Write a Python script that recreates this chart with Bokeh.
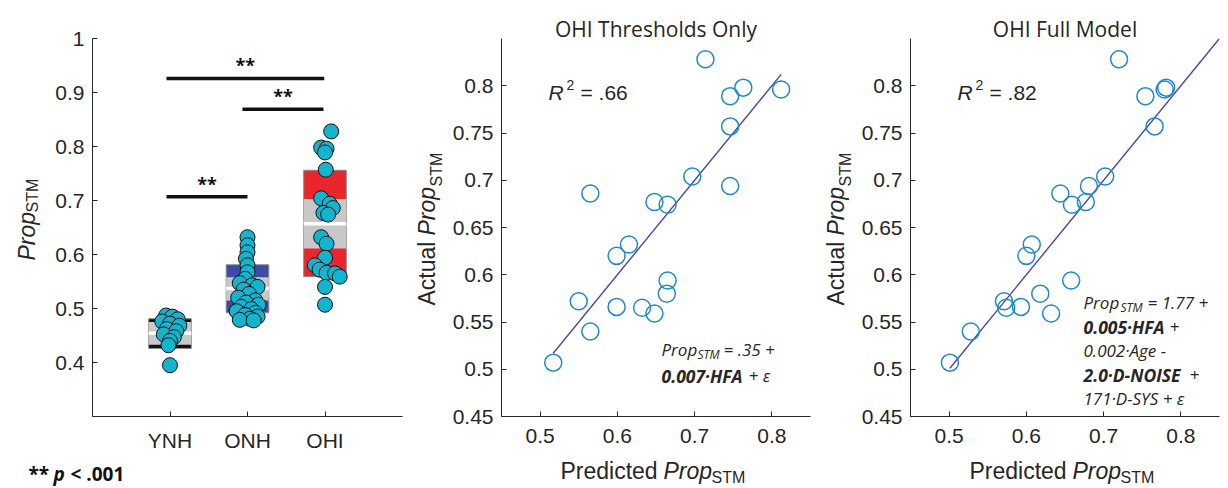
import math
from bokeh.plotting import figure
from bokeh.models import FixedTicker
from bokeh.core.properties import value
from bokeh.layouts import row
from bokeh.embed import file_html
from bokeh.resources import INLINE

# ---------------- data ----------------
groups = ["YNH", "ONH", "OHI"]

ynh_vals = [0.487, 0.485, 0.480, 0.476, 0.472, 0.468, 0.462, 0.458, 0.452, 0.447, 0.440, 0.432, 0.395]
ynh_jit = [-0.05, 0.03, 0.10, -0.10, 0.00, 0.12, -0.04, 0.08, -0.08, 0.05, 0.00, -0.02, 0.00]

onh_vals = [0.632, 0.617, 0.604, 0.592, 0.580, 0.567, 0.555, 0.547, 0.543, 0.540, 0.535, 0.527, 0.520,
            0.515, 0.511, 0.507, 0.503, 0.499, 0.495, 0.492, 0.488, 0.485, 0.481, 0.479, 0.478]
onh_jit = [0.00, 0.00, 0.00, -0.02, 0.00, 0.00, -0.03, -0.10, 0.06, 0.13, -0.05, 0.02, -0.12,
           0.10, -0.02, 0.14, -0.08, 0.05, -0.14, 0.10, -0.03, 0.13, 0.03, -0.10, 0.08]

# OHI actual PropSTM (shared by all three panels)
ohi_vals = [0.828, 0.798, 0.796, 0.789, 0.757, 0.704, 0.694, 0.686, 0.677, 0.674,
            0.632, 0.620, 0.594, 0.580, 0.572, 0.566, 0.565, 0.559, 0.540, 0.507]
ohi_jit = [0.08, -0.05, 0.02, 0.00, 0.01, -0.05, 0.06, 0.10, -0.02, 0.04,
           -0.05, 0.02, 0.00, -0.13, -0.07, 0.02, 0.13, 0.19, 0.00, 0.00]

pred_thresh = [0.714, 0.763, 0.812, 0.746, 0.746, 0.697, 0.746, 0.565, 0.648, 0.665,
               0.615, 0.599, 0.665, 0.664, 0.550, 0.599, 0.632, 0.648, 0.565, 0.517]
pred_full = [0.720, 0.781, 0.779, 0.754, 0.766, 0.702, 0.681, 0.644, 0.677, 0.659,
             0.607, 0.600, 0.658, 0.618, 0.571, 0.593, 0.574, 0.632, 0.528, 0.501]

box_mean = [0.454, 0.537, 0.657]
box_ci_lo = [0.433, 0.515, 0.611]
box_ci_hi = [0.475, 0.558, 0.703]
box_sd_lo = [0.426, 0.492, 0.559]
box_sd_hi = [0.481, 0.581, 0.756]
box_colors = ["#111111", "#3B4CA8", "#E8262B"]

sig_x0 = [0.955, 1.935, 0.955]
sig_x1 = [2.99, 2.98, 2.00]
sig_y = [0.926, 0.869, 0.707]

fit_slope = 1.0
fit_intercept = 0.0
fit_thresh_x = [min(pred_thresh), max(pred_thresh)]
fit_full_x = [min(pred_full), 0.85]

r2_labels = [".66", ".82"]
titles = ["OHI Thresholds Only", "OHI Full Model"]

# ---------------- helpers ----------------
AX = "#262626"
ARIAL = "Liberation Sans"
CAL = "Open Sans"
FY_TOP, FY_BOT = 38, 416
H = 488


def conv(fx, fw, xr, yr):
    def cx(px):
        return xr[0] + (px - fx) / fw * (xr[1] - xr[0])

    def cy(py):
        return yr[0] + (FY_BOT - py) / (FY_BOT - FY_TOP) * (yr[1] - yr[0])
    return cx, cy


def txt(p, cv, px, py, text, size, font=ARIAL, style="normal", color=AX,
        angle=0.0, align="left"):
    cx, cy = cv
    p.text(x=[cx(px)], y=[cy(py)], text=[text], text_font=value(font),
           text_font_size=value(f"{size}px"), text_font_style=value(style),
           text_color=color, angle=angle, text_align=value(align),
           text_baseline=value("alphabetic"), level="overlay")


def make_fig(width, left, right, xr, yr):
    p = figure(width=width, height=H, x_range=xr, y_range=yr,
               output_backend="svg", toolbar_location=None,
               min_border_left=left, min_border_right=right,
               min_border_top=FY_TOP, min_border_bottom=H - FY_BOT)
    p.outline_line_color = None
    p.xgrid.visible = False
    p.ygrid.visible = False
    return p


def style_axes(p, xticks, xlabels, yticks, ylabels):
    p.xaxis.ticker = FixedTicker(ticks=xticks)
    p.xaxis.major_label_overrides = dict(zip(xticks, xlabels))
    p.yaxis.ticker = FixedTicker(ticks=yticks)
    p.yaxis.major_label_overrides = dict(zip(yticks, ylabels))
    for ax in (p.xaxis[0], p.yaxis[0]):
        ax.major_tick_in = 5
        ax.major_tick_out = 0
        ax.minor_tick_line_color = None
        ax.axis_line_color = AX
        ax.major_tick_line_color = AX
        ax.major_label_text_font = ARIAL
        ax.major_label_text_font_size = "21px"
        ax.major_label_text_color = AX
    p.xaxis.major_label_standoff = 12
    p.yaxis.major_label_standoff = 8


# ---------------- panel 1 ----------------
X1, Y1 = (0, 4), (0.3, 1.0)
FX1, FW1 = 92, 310
p1 = make_fig(410, FX1, 410 - FX1 - FW1, X1, Y1)
cv1 = conv(FX1, FW1, X1, Y1)
yt1 = [0.4, 0.5, 0.6, 0.7, 0.8, 0.9, 1.0]
style_axes(p1, [1, 2, 3], groups, yt1, [f"{t:g}" for t in yt1])

pos = [1, 2, 3]
hw = 0.275
left = [q - hw for q in pos]
right = [q + hw for q in pos]
p1.quad(left=left, right=right, bottom=box_sd_lo, top=box_sd_hi,
        fill_color=box_colors, line_color="#8C8C8C", line_width=1)
p1.quad(left=left, right=right, bottom=box_ci_lo, top=box_ci_hi,
        fill_color="#C8C8C8", line_color=None)
p1.segment(x0=left, x1=right, y0=box_mean, y1=box_mean, line_color="white", line_width=3.5)

p1.segment(x0=sig_x0, x1=sig_x1, y0=sig_y, y1=sig_y, line_color="#111111", line_width=3.5)

for g, vals, jit in ((1, ynh_vals, ynh_jit), (2, onh_vals, onh_jit), (3, ohi_vals, ohi_jit)):
    p1.scatter(x=[g + j for j in jit], y=vals, size=15, fill_color="#14B4CE",
               line_color="#111111", line_width=1)

for a, b, yy in zip(sig_x0, sig_x1, sig_y):
    bar_py = FY_BOT - (yy - Y1[0]) / (Y1[1] - Y1[0]) * (FY_BOT - FY_TOP)
    mid_px = FX1 + ((a + b) / 2 - X1[0]) / (X1[1] - X1[0]) * FW1
    txt(p1, cv1, mid_px, bar_py - 13, "**", 18, font=CAL, style="bold", color="#111111", align="center")

# y label Prop_STM
txt(p1, cv1, 26, 260, "Prop", 23, style="italic", angle=math.pi / 2)
txt(p1, cv1, 32, 212, "STM", 16, angle=math.pi / 2)
# p-value note
txt(p1, cv1, 28, 473, "**", 19, font=CAL, style="bold", color="#111111")
txt(p1, cv1, 53, 473, "p", 19, font=CAL, style="bold italic", color="#111111")
txt(p1, cv1, 70, 473, "< .001", 19, font=CAL, style="bold", color="#111111")

# ---------------- panels 2 & 3 ----------------
XS, YS = (0.45, 0.85), (0.45, 0.85)
xt = [0.5, 0.6, 0.7, 0.8]
yt = [0.45, 0.5, 0.55, 0.6, 0.65, 0.7, 0.75, 0.8]


def scatter_panel(x0, width, fx, preds, fit_x, title, r2):
    fw = 309
    p = make_fig(width, fx - x0, width - (fx - x0) - fw, XS, YS)
    cv = conv(fx, fw, XS, YS)
    dx = fx - 501
    style_axes(p, xt, [f"{t:g}" for t in xt], yt, [f"{t:g}" for t in yt])
    p.line(x=fit_x, y=[fit_slope * v + fit_intercept for v in fit_x],
           line_color="#4646AA", line_width=1.4)
    p.scatter(x=preds, y=ohi_vals, size=17, fill_color=None,
              line_color="#1E88CC", line_width=1.5)
    mid = fx + fw / 2
    txt(p, cv, mid, 28, title, 21, font=CAL, align="center")
    # R^2
    txt(p, cv, 548 + dx, 92, "R", 21, style="italic")
    txt(p, cv, 566 + dx, 84, "2", 14)
    txt(p, cv, 580 + dx, 92, "= " + r2, 21)
    # axis labels
    txt(p, cv, 560 + dx, 470, "Predicted", 23)
    txt(p, cv, 663 + dx, 470, "Prop", 23, style="italic")
    txt(p, cv, 711 + dx, 477, "STM", 16)
    txt(p, cv, 426 + dx, 305, "Actual", 23, angle=math.pi / 2)
    txt(p, cv, 426 + dx, 235, "Prop", 23, style="italic", angle=math.pi / 2)
    txt(p, cv, 436 + dx, 186, "STM", 16, angle=math.pi / 2)
    return p, cv


p2, cv2 = scatter_panel(410, 410, 501, pred_thresh, fit_thresh_x, titles[0], r2_labels[0])
p3, cv3 = scatter_panel(820, 408, 910, pred_full, fit_full_x, titles[1], r2_labels[1])

EQ_I, EQ_B, EQ_S = 17, 17.5, 12

# equation panel 2
txt(p2, cv2, 661, 349, "Prop", EQ_I, font=CAL, style="italic")
txt(p2, cv2, 697, 354, "STM", EQ_S, font=CAL, style="italic")
txt(p2, cv2, 723, 349, "= .35 +", EQ_I, font=CAL, style="italic")
txt(p2, cv2, 661, 375, "0.007·HFA", EQ_B, font=CAL, style="bold italic")
txt(p2, cv2, 748, 375, "+ ε", EQ_I, font=CAL, style="italic")

# equation panel 3
txt(p3, cv3, 1083, 302, "Prop", EQ_I, font=CAL, style="italic")
txt(p3, cv3, 1120, 307, "STM", EQ_S, font=CAL, style="italic")
txt(p3, cv3, 1147, 302, "= 1.77 +", EQ_I, font=CAL, style="italic")
txt(p3, cv3, 1083, 326, "0.005·HFA", EQ_B, font=CAL, style="bold italic")
txt(p3, cv3, 1169, 326, "+", EQ_I, font=CAL, style="italic")
txt(p3, cv3, 1083, 350, "0.002·Age -", EQ_I, font=CAL, style="italic")
txt(p3, cv3, 1083, 374, "2.0·D-NOISE", EQ_B, font=CAL, style="bold italic")
txt(p3, cv3, 1189, 374, "+", EQ_I, font=CAL, style="italic")
txt(p3, cv3, 1083, 398, "171·D-SYS + ε", EQ_I, font=CAL, style="italic")

layout = row(p1, p2, p3)
open("out.html", "w").write(file_html(layout, INLINE))
